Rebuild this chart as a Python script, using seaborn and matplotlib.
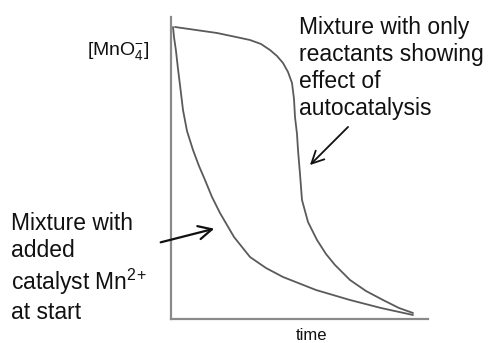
import matplotlib
matplotlib.use("Agg")
import matplotlib.pyplot as plt
import seaborn as sns
import pandas as pd

# Data (arbitrary units: time, [MnO4-])
t_auto = [4, 25, 46, 65, 79, 90, 99, 106, 112, 117, 121, 123, 124, 126, 127, 129, 131, 137, 146, 155, 164, 179, 195, 212, 228, 242]
c_auto = [292, 289, 286, 282, 279, 275, 269, 263, 256, 247, 236, 220, 202, 185, 169, 145, 119, 97, 79, 65, 54, 39, 28, 19, 11, 6]
t_cat = [2, 3, 5, 7, 9, 12, 16, 22, 28, 34, 41, 49, 63, 79, 95, 112, 145, 179, 210, 242]
c_cat = [292, 282, 268, 250, 234, 209, 188, 169, 153, 139, 122, 106, 82, 62, 51, 42, 29, 19, 11, 4]

y_label = "[MnO$_4^{-}$]"
x_label = "time"
label_auto = "Mixture with only\nreactants showing\neffect of\nautocatalysis"
label_cat = "Mixture with\nadded\ncatalyst Mn$^{2}$$^{+}$\nat start"

sns.set_theme(style="white")
plt.rcParams["font.family"] = ["Liberation Sans", "DejaVu Sans"]
plt.rcParams["mathtext.fontset"] = "custom"
plt.rcParams["mathtext.rm"] = "Liberation Sans"
plt.rcParams["mathtext.it"] = "Liberation Sans"

W, H = 496, 343
fig = plt.figure(figsize=(W / 100, H / 100), dpi=100)
ax = fig.add_axes([171 / W, 1 - 319 / H, (428 - 171) / W, (319 - 17) / H])

df_auto = pd.DataFrame({"t": t_auto, "c": c_auto})
df_cat = pd.DataFrame({"t": t_cat, "c": c_cat})
sns.lineplot(data=df_auto, x="t", y="c", ax=ax, color="#5a5a5a", lw=1.3, sort=False, estimator=None)
sns.lineplot(data=df_cat, x="t", y="c", ax=ax, color="#5a5a5a", lw=1.3, sort=False, estimator=None)

ax.set_xlim(0, 257)
ax.set_ylim(0, 302)
ax.set_xticks([])
ax.set_yticks([])
ax.set_xlabel("")
ax.set_ylabel("")
for s in ["top", "right"]:
    ax.spines[s].set_visible(False)
for s in ["left", "bottom"]:
    ax.spines[s].set_color("#8a8a8a")
    ax.spines[s].set_linewidth(1.6)

def fx(px):
    return px / W

def fy(py):
    return 1 - py / H

fig.text(fx(118), fy(51), y_label, fontsize=14, ha="center", va="center", color="#111111")
fig.text(fx(311), fy(336), x_label, fontsize=12, ha="center", va="center", color="#111111")
fig.text(fx(299), fy(16), label_auto, fontsize=16.5, ha="left", va="top", color="#111111", linespacing=1.22)
fig.text(fx(11), fy(212), label_cat, fontsize=16.5, ha="left", va="top", color="#111111", linespacing=1.22)

ax.annotate("", xy=(46, 91), xytext=(-13, 76), xycoords="data", textcoords="data",
            arrowprops=dict(arrowstyle="->", color="#111111", lw=1.6, mutation_scale=24),
            annotation_clip=False)
ax.annotate("", xy=(137, 152), xytext=(179, 194), xycoords="data", textcoords="data",
            arrowprops=dict(arrowstyle="->", color="#111111", lw=1.3, mutation_scale=22),
            annotation_clip=False)

fig.savefig("out.png", dpi=100)
